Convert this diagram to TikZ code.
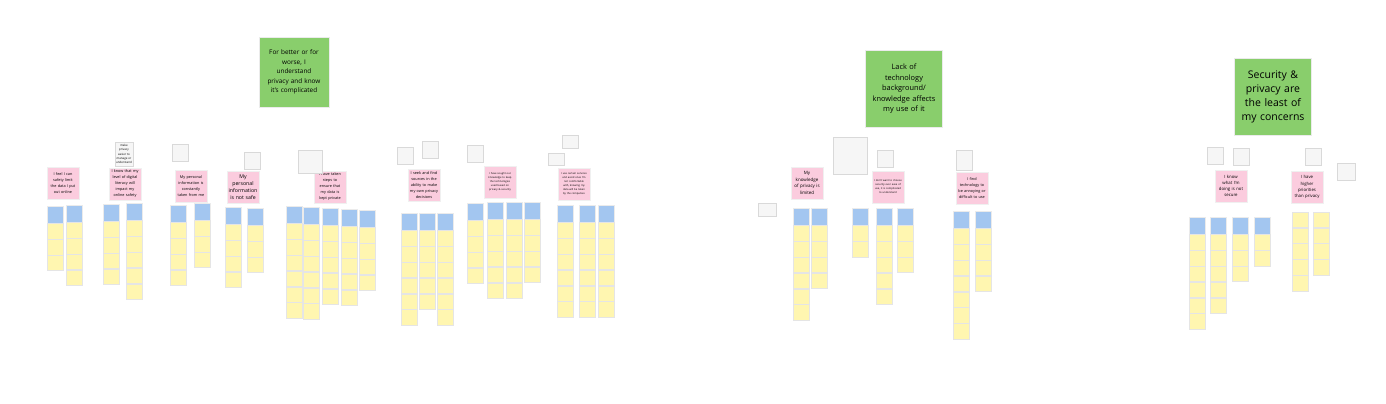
\documentclass[tikz,border=0pt]{standalone}
\usepackage{fontspec}
\setmainfont{Open Sans}
\hyphenpenalty=10000
\exhyphenpenalty=10000
\definecolor{themegreen}{RGB}{137,206,108}
\definecolor{notepink}{RGB}{251,204,222}
\definecolor{noteblue}{RGB}{163,198,240}
\definecolor{noteyellow}{RGB}{255,246,176}
\definecolor{notegray}{RGB}{246,246,246}
\tikzset{
theme/.style={rectangle,fill=themegreen,draw=black!8,
minimum width=70pt,minimum height=70pt,text width=68pt,
align=center,inner sep=1pt,font=\fontsize{6.4}{9.4}\selectfont},
insight/.style={rectangle,fill=notepink,draw=black!6,
minimum width=32pt,minimum height=32pt,text width=31pt,
align=center,inner sep=0.5pt,font=\fontsize{3.8}{6}\selectfont},
remark/.style={rectangle,fill=notegray,draw=black!15,
minimum width=16pt,minimum height=17pt,text width=14pt,
align=center,inner sep=1pt,font=\fontsize{1.6}{2.4}\selectfont},
bluenote/.style={rectangle,fill=noteblue,draw=black!8,
minimum width=16pt,minimum height=17pt,inner sep=0pt},
yellownote/.style={rectangle,fill=noteyellow,draw=black!10,
minimum width=16pt,minimum height=15.5pt,inner sep=0pt}
}
\begin{document}
\begin{tikzpicture}[x=1pt,y=-1pt]
\useasboundingbox[fill=white] (0,0) rectangle (1386,404);

% themes
\node[theme](worse) at (294,72){For better or for\\ worse, I\\ understand\\ privacy and know\\ it's complicated};
\node[theme,minimum width=77pt,minimum height=77pt,text width=75pt,
font=\fontsize{7.4}{10.5}\selectfont](background) at (904,89){Lack of\\ technology\\ background/\\ knowledge affects\\ my use of it};
\node[theme,minimum width=77pt,minimum height=77pt,text width=75pt,
font=\fontsize{10.5}{14}\selectfont](least) at (1273,97){Security \&\\ privacy are\\ the least of\\ my concerns};

% insights
\node[insight](limit) at (63,183){I feel I can\\ safety limit\\ the data I put\\ out online};
\node[insight](literacy) at (125,184){I know that my\\ level of digital\\ literacy will\\ impact my\\ online safety};
\node[insight](taken) at (191,186){My personal\\ information is\\ constantly\\ taken from me};
\node[insight,font=\fontsize{5.2}{7}\selectfont](notsafe) at (243,187){My\\ personal\\ information\\ is not safe};
\node[insight](steps) at (330,187){I have taken\\ steps to\\ ensure that\\ my data is\\ kept private};
\node[insight](sources) at (424,185){I seek and find\\ sources in the\\ ability to make\\ my own privacy\\ decisions};
\node[insight,text width=29pt,font=\fontsize{2.6}{4}\selectfont](sought) at (500,182){I have sought out knowledge to keep the technologies used based on privacy \& security};
\node[insight,text width=29pt,font=\fontsize{2.6}{4}\selectfont](avoid) at (574,184){I use certain services and avoid ones I'm not comfortable with, knowing my data will be taken by the companies};
\node[insight,font=\fontsize{4.5}{6.8}\selectfont](limited) at (807,183){My\\ knowledge\\ of privacy is\\ limited};
\node[insight,text width=29pt,font=\fontsize{2.6}{4}\selectfont](ease) at (888,187){I don't want to choose security over ease of use, it is complicated to understand};
\node[insight](annoying) at (972,188){I find\\ technology to\\ be annoying or\\ difficult to use};
\node[insight,font=\fontsize{4.3}{6.2}\selectfont](secure) at (1231,186){I know\\ what I'm\\ doing is not\\ secure};
\node[insight,font=\fontsize{4.3}{6.2}\selectfont](priorities) at (1307,187){I have\\ higher\\ priorities\\ than privacy};

% remarks
\node[remark,minimum width=18pt,text width=17pt,minimum height=24pt,inner sep=0.5pt,
font=\fontsize{2.9}{4.4}\selectfont](easier) at (124,154){make privacy\\ easier to\\ manage or\\ understand};
\node[remark](ra) at (180,153){};
\node[remark](rb) at (252,161){};
\node[remark,minimum width=24pt,minimum height=23pt](rc) at (310,162){};
\node[remark](rd) at (405,156){};
\node[remark](re) at (430,150){};
\node[remark](rf) at (475,154){};
\node[remark,minimum width=13pt,minimum height=12pt](rg) at (556,159){};
\node[remark,minimum width=15pt,minimum height=13pt](rh) at (570,142){};
\node[remark,minimum width=34pt,minimum height=37pt](ri) at (850,156){};
\node[remark](rj) at (885,159){};
\node[remark,minimum height=20pt](rk) at (964,160){};
\node[remark,minimum width=18pt,minimum height=13pt](rl) at (767,210){};
\node[remark](rm) at (1215,156){};
\node[remark](rn) at (1241,157){};
\node[remark](ro) at (1313,157){};
\node[remark,minimum width=18pt](rp) at (1346,172){};

% columns: x / top of blue note / yellow notes
\foreach \x/\y/\n [count=\c] in {55/206/3,74.5/205/4,111.5/204/4,134.5/203/5,
178.5/205/4,202/203/3,233.5/207/4,255/208/3,
294/206/6,311/207/6,330/208/5,349.5/209/5,367/210/4,
409/213/6,427/213/5,445.5/213/6,
475/203/4,495/202/5,514/202/5,532.5/202/4,
565/205/6,587/205/6,606.5/205/6,
801/208/6,819/208/4,
860/208/2,884/208/5,905/208/3,
961/211/7,983/211/4,
1197/217/6,1218/217/5,1240/217/3,1262/217/2}{
\node[bluenote](b\c) at (\x,{\y+8.5}){};
\foreach \k in {1,...,\n}
\node[yellownote](y\c-\k) at (\x,{\y+9.5+15.8*\k}){};
}
% no blue notes here
\foreach \x/\n [count=\c] in {1300/5,1321/4}{
\foreach \k in {1,...,\n}
\node[yellownote](z\c-\k) at (\x,{204+15.8*\k}){};
}
\end{tikzpicture}
\end{document}
